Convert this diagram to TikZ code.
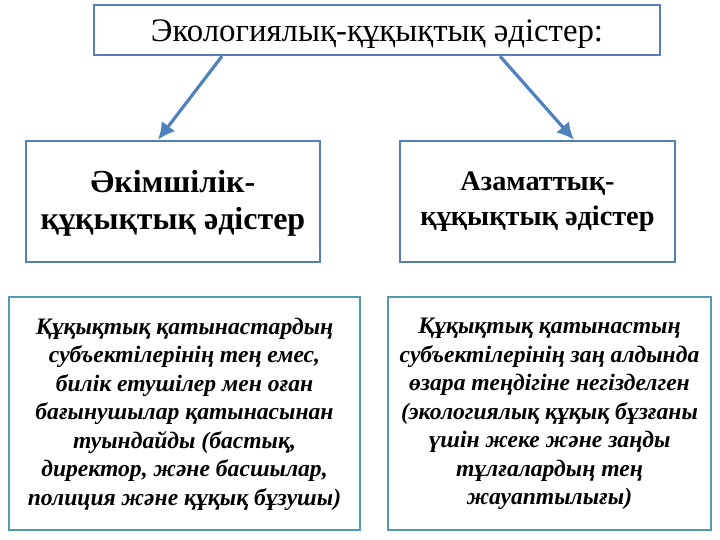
\documentclass[tikz,border=0pt]{standalone}
\usepackage{fontspec}
\setmainfont{Liberation Serif}
\usetikzlibrary{arrows.meta}
\definecolor{topblue}{RGB}{84,125,185}
\definecolor{arrblue}{RGB}{79,129,189}
\definecolor{tealb}{RGB}{80,155,172}
\begin{document}
\begin{tikzpicture}[x=1pt,y=-1pt,
  topbox/.style={draw=topblue,line width=2.4pt,fill=white,inner sep=0pt},
  botbox/.style={draw=tealb,line width=2.4pt,fill=white,inner sep=0pt},
  conn/.style={draw=arrblue,line width=3.2pt,-{Latex[length=17pt,width=17pt]}}]
\useasboundingbox (0,0) rectangle (720,540);
\node[topbox,minimum width=566pt,minimum height=50pt] (top) at (377,30) {};
\node at (377,34) {\fontsize{32.8}{38}\selectfont Экологиялық-құқықтық әдістер:};
\node[topbox,minimum width=294pt,minimum height=121pt] (adm) at (173,201.5) {};
\node[align=center,font=\fontsize{32}{37}\selectfont\bfseries] at (173,203) {Әкімшілік-\\құқықтық әдістер};
\node[topbox,minimum width=275pt,minimum height=121pt] (civ) at (537.5,201.5) {};
\node[align=center,font=\fontsize{28.3}{35}\selectfont\bfseries] at (537.5,202) {Азаматтық-\\құқықтық әдістер};
\node[botbox,minimum width=351pt,minimum height=233pt] (l) at (184.5,413.5) {};
\node[align=center,font=\fontsize{23.6}{28.5}\selectfont\bfseries\itshape] at (184.5,414) {Құқықтық қатынастардың\\субъектілерінің тең емес,\\билік етушілер мен оған\\бағынушылар қатынасынан\\туындайды (бастық,\\директор, және басшылар,\\полиция және құқық бұзушы)};
\node[botbox,minimum width=323pt,minimum height=233pt] (r) at (549.5,413.5) {};
\node[align=center,font=\fontsize{23.6}{28.5}\selectfont\bfseries\itshape] at (549.5,414) {Құқықтық қатынастың\\субъектілерінің заң алдында\\өзара теңдігіне негізделген\\(экологиялық құқық бұзғаны\\үшін жеке және заңды\\тұлғалардың тең\\жауаптылығы)};
\coordinate (a1) at (222,55);
\coordinate (b1) at (158,140);
\coordinate (a2) at (500,55);
\coordinate (b2) at (574,140);
\draw[conn] (top.south -| a1) -- (adm.north -| b1);
\draw[conn] (top.south -| a2) -- (civ.north -| b2);
\end{tikzpicture}
\end{document}
